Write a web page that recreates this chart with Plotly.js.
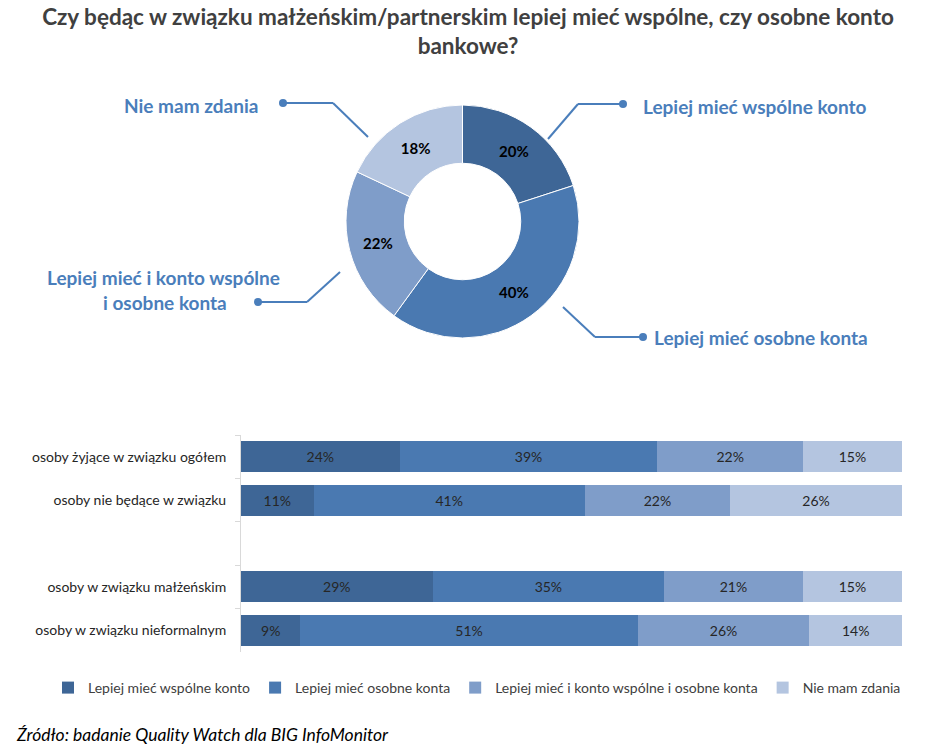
<!DOCTYPE html>
<html>
<head>
<meta charset="utf-8">
<script src="https://cdn.plot.ly/plotly-3.0.1.min.js"></script>
<style>html,body{margin:0;padding:0;background:#fff;}#chart{width:936px;height:752px;}</style>
</head>
<body>
<div id="chart"></div>
<script>
// ---- data ----
const responses = ['Lepiej mieć wspólne konto', 'Lepiej mieć osobne konta', 'Lepiej mieć i konto wspólne i osobne konta', 'Nie mam zdania'];
const donutValues = [20, 40, 22, 18];
const categories = ['osoby żyjące w związku ogółem', 'osoby nie będące w związku', ' ', 'osoby w związku małżeńskim', 'osoby w związku nieformalnym'];
const sharedVals = [24, 11, null, 29, 9];
const separateVals = [39, 41, null, 35, 51];
const bothVals = [22, 22, null, 21, 26];
const noOpinionVals = [15, 26, null, 15, 14];
const seriesVals = [sharedVals, separateVals, bothVals, noOpinionVals];

// ---- styles ----
const colors = ['#3E6696', '#4A79B1', '#7F9DC9', '#B4C5E0'];
const FONT = 'Lato, "Open Sans", sans-serif';
const W = 936, H = 752;
const px = x => x / W;
const py = y => 1 - y / H;
const callColor = '#4A7EBB';

const donut = {
  type: 'pie',
  values: donutValues,
  labels: responses,
  hole: 0.5,
  sort: false,
  direction: 'clockwise',
  rotation: 0,
  marker: {colors: colors, line: {color: '#ffffff', width: 1}},
  texttemplate: '%{value}%',
  textposition: 'inside',
  insidetextorientation: 'horizontal',
  textfont: {family: FONT, size: 15, color: '#000000', weight: 'bold'},
  showlegend: false,
  hoverinfo: 'label+value',
  domain: {x: [px(346), px(579)], y: [py(338), py(105)]}
};

const bars = responses.map((name, i) => ({
  type: 'bar',
  orientation: 'h',
  name: name,
  y: categories,
  x: seriesVals[i],
  text: seriesVals[i].map(v => v == null ? '' : v + '%'),
  textposition: 'inside',
  insidetextanchor: 'middle',
  textangle: 0,
  constraintext: 'none',
  textfont: {family: FONT, size: 14, color: '#262626'},
  marker: {color: colors[i], line: {width: 0}},
  hoverinfo: 'name+x',
  xaxis: 'x',
  yaxis: 'y'
}));

// callout leader lines (decoration)
const leaders = [
  [[283, 103], [333, 103], [368, 137]],
  [[623, 104], [578, 104], [548, 139]],
  [[643, 337], [595, 337], [563, 307]],
  [[258, 302], [307, 302], [340, 272]]
];
const shapes = [];
leaders.forEach(pts => {
  for (let k = 0; k < pts.length - 1; k++) {
    shapes.push({type: 'line', xref: 'paper', yref: 'paper',
      x0: px(pts[k][0]), y0: py(pts[k][1]), x1: px(pts[k+1][0]), y1: py(pts[k+1][1]),
      line: {color: callColor, width: 2}});
  }
  const d = pts[0];
  shapes.push({type: 'circle', xref: 'paper', yref: 'paper',
    x0: px(d[0] - 4), x1: px(d[0] + 4), y0: py(d[1] + 4), y1: py(d[1] - 4),
    fillcolor: callColor, line: {color: callColor, width: 0}});
});

const callFont = {family: FONT, size: 19, color: callColor, weight: 'bold'};
const annotations = [
  {text: 'Nie mam zdania', x: px(260), y: py(105), xanchor: 'right', yanchor: 'middle'},
  {text: 'Lepiej mieć wspólne konto', x: px(641), y: py(106), xanchor: 'left', yanchor: 'middle'},
  {text: 'Lepiej mieć osobne konta', x: px(652), y: py(337), xanchor: 'left', yanchor: 'middle'},
  {text: 'Lepiej mieć i konto wspólne', x: px(163), y: py(277), xanchor: 'center', yanchor: 'middle'},
  {text: 'i osobne konta', x: px(165), y: py(302), xanchor: 'center', yanchor: 'middle'}
].map(a => Object.assign({xref: 'paper', yref: 'paper', showarrow: false, font: callFont}, a));

annotations.push({
  text: '<i>Źródło: badanie Quality Watch dla BIG InfoMonitor</i>',
  xref: 'paper', yref: 'paper', x: px(14), y: py(734), xanchor: 'left', yanchor: 'middle',
  showarrow: false, font: {family: FONT, size: 17.5, color: '#000000'}
});

const layout = {
  width: W, height: H,
  margin: {l: 0, r: 0, t: 0, b: 0},
  paper_bgcolor: '#ffffff', plot_bgcolor: '#ffffff',
  font: {family: FONT, color: '#404040'},
  title: {
    text: 'Czy będąc w związku małżeńskim/partnerskim lepiej mieć wspólne, czy osobne konto<br>bankowe?',
    x: 0.5, xanchor: 'center', xref: 'paper',
    y: 1 - 25 / H, yanchor: 'top', yref: 'container',
    font: {family: FONT, size: 22.5, color: '#404040', weight: 'bold'}
  },
  barmode: 'stack',
  bargap: 0.29,
  xaxis: {domain: [px(241), px(902)], range: [0, 100], visible: false, fixedrange: true},
  yaxis: {
    domain: [py(652), py(435)],
    type: 'category',
    categoryorder: 'array', categoryarray: categories,
    range: [4.5, -0.5],
    showline: true, linecolor: '#D9D9D9', linewidth: 1,
    ticks: 'outside', ticklen: 5, tickcolor: '#D9D9D9', tickson: 'boundaries',
    showgrid: false, zeroline: false,
    tickfont: {family: FONT, size: 14, color: '#262626'},
    ticklabelstandoff: 11,
    fixedrange: true
  },
  showlegend: true,
  legend: {
    orientation: 'h', x: px(477), xanchor: 'center', y: py(688), yanchor: 'middle',
    font: {family: FONT, size: 14, color: '#404040'},
    traceorder: 'normal', itemclick: false, itemdoubleclick: false
  },
  shapes: shapes,
  annotations: annotations
};

Plotly.newPlot('chart', [donut].concat(bars), layout, {displayModeBar: false, staticPlot: false});
</script>
</body>
</html>
